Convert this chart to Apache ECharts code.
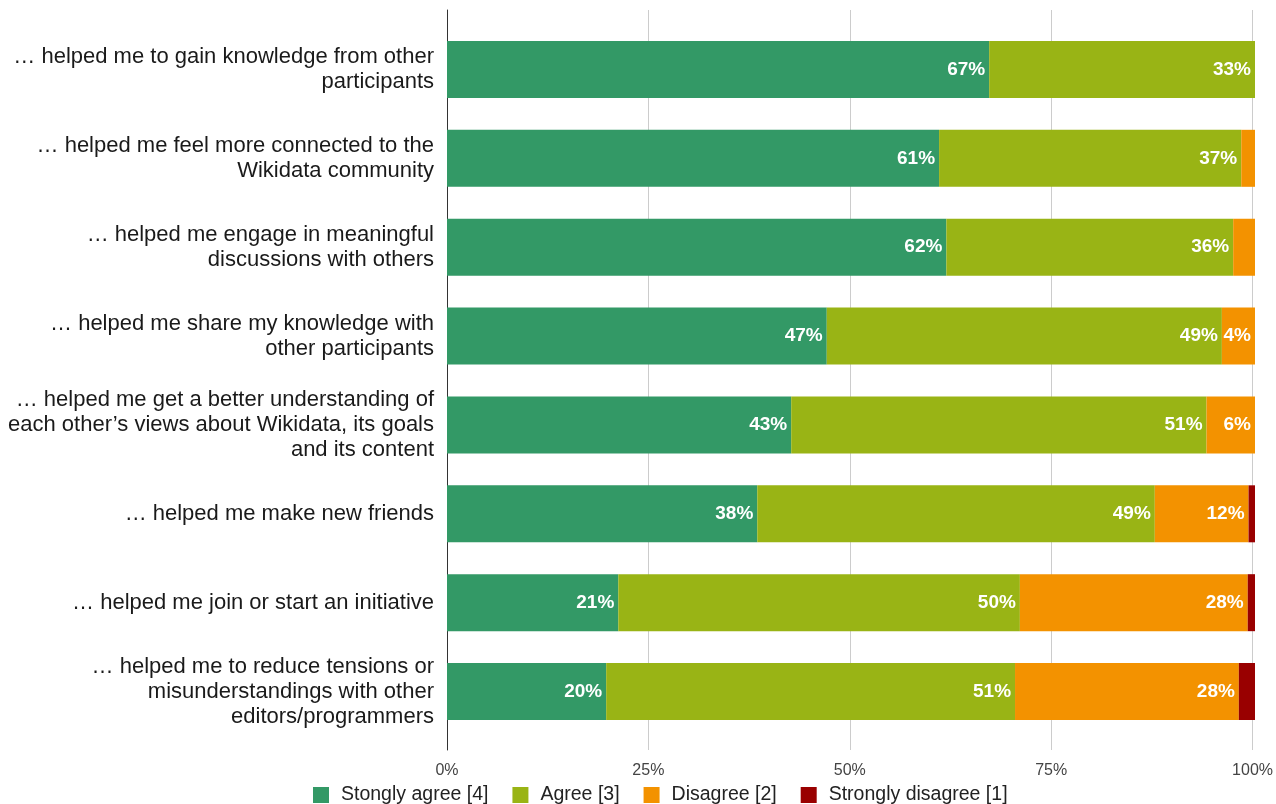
<!DOCTYPE html>
<html>
<head>
<meta charset="utf-8">
<script src="https://cdn.jsdelivr.net/npm/echarts@6/dist/echarts.min.js"></script>
<style>
html,body{margin:0;padding:0;background:#fff;}
#chart{width:1276px;height:804px;}
</style>
</head>
<body>
<div id="chart"></div>
<script>
const categories = [
  "… helped me to gain knowledge from other\nparticipants",
  "… helped me feel more connected to the\nWikidata community",
  "… helped me engage in meaningful\ndiscussions with others",
  "… helped me share my knowledge with\nother participants",
  "… helped me get a better understanding of\neach other’s views about Wikidata, its goals\nand its content",
  "… helped me make new friends",
  "… helped me join or start an initiative",
  "… helped me to reduce tensions or\nmisunderstandings with other\neditors/programmers"
];
const seriesNames = ["Stongly agree [4]", "Agree [3]", "Disagree [2]", "Strongly disagree [1]"];
const stronglyAgree = [67.1, 60.9, 61.8, 47.0, 42.6, 38.4, 21.2, 19.7];
const agree = [32.9, 37.4, 35.5, 48.9, 51.4, 49.2, 49.7, 50.6];
const disagree = [0, 1.7, 2.7, 4.1, 6.0, 11.6, 28.2, 27.7];
const stronglyDisagree = [0, 0, 0, 0, 0, 0.8, 0.9, 2.0];
const xTicks = [0, 25, 50, 75, 100];

const colors = ["#339966", "#99b415", "#f39200", "#990000"];
const FONT = "'Liberation Sans', Arial, sans-serif";

const chart = echarts.init(document.getElementById('chart'), null, {renderer: 'canvas'});

function mkSeries(name, data, color) {
  return {
    name: name,
    type: 'bar',
    stack: 'total',
    xAxisIndex: 1,
    yAxisIndex: 1,
    barWidth: 57,
    data: data,
    itemStyle: {color: color},
    label: {
      show: true,
      position: 'insideRight',
      distance: 4,
      color: '#fff',
      fontWeight: 'bold',
      fontSize: 19,
      fontFamily: FONT,
      formatter: function (p) { return p.value >= 3.5 ? Math.round(p.value) + '%' : ''; }
    },
    emphasis: {disabled: true}
  };
}

const option = {
  animation: false,
  backgroundColor: '#fff',
  color: colors,
  grid: [
    {left: 447, width: 808, top: 10, height: 740, containLabel: false},
    {left: 447, width: 808, top: 25, height: 711, containLabel: false}
  ],
  legend: {
    left: 313,
    top: 785,
    padding: 0,
    icon: 'rect',
    itemWidth: 16,
    itemHeight: 16,
    itemGap: 24,
    data: seriesNames,
    textStyle: {fontSize: 19.5, color: '#222', fontFamily: FONT, padding: [0, 0, 0, 7]}
  },
  xAxis: [
    {
      gridIndex: 0,
      type: 'value',
      min: xTicks[0],
      max: xTicks[xTicks.length - 1],
      interval: 25,
      axisLine: {show: false},
      axisTick: {show: false},
      axisLabel: {formatter: '{value}%', fontSize: 16, color: '#444', fontFamily: FONT, margin: 13},
      splitLine: {show: true, lineStyle: {color: '#cccccc', width: 1}}
    },
    {
      gridIndex: 1,
      type: 'value',
      min: 0,
      max: 100,
      show: false
    }
  ],
  yAxis: [
    {
      gridIndex: 0,
      type: 'value',
      axisLine: {show: true, lineStyle: {color: '#333', width: 1}},
      axisTick: {show: false},
      axisLabel: {show: false},
      splitLine: {show: false}
    },
    {
      gridIndex: 1,
      type: 'category',
      inverse: true,
      data: categories,
      axisLine: {show: false},
      axisTick: {show: false},
      splitLine: {show: false},
      axisLabel: {
        fontSize: 22,
        lineHeight: 25,
        color: '#1a1a1a',
        fontFamily: FONT,
        align: 'right',
        margin: 13,
        interval: 0,
        padding: [3, 0, 0, 0]
      }
    }
  ],
  series: [
    mkSeries(seriesNames[0], stronglyAgree, colors[0]),
    mkSeries(seriesNames[1], agree, colors[1]),
    mkSeries(seriesNames[2], disagree, colors[2]),
    mkSeries(seriesNames[3], stronglyDisagree, colors[3])
  ]
};
chart.setOption(option);
</script>
</body>
</html>
